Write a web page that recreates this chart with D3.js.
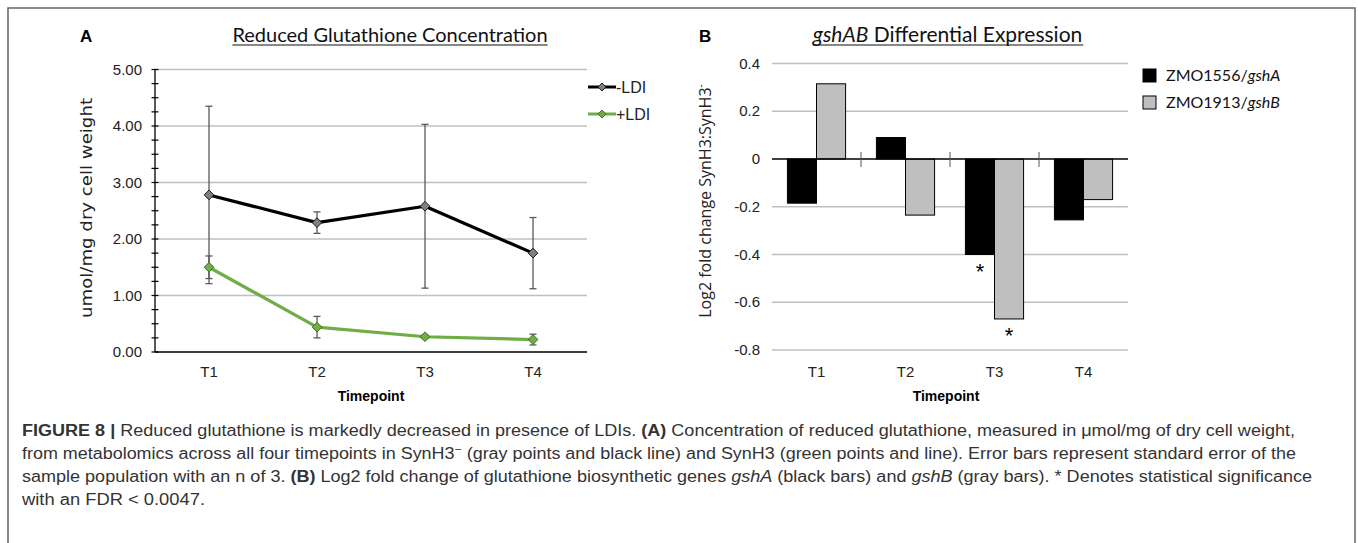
<!DOCTYPE html>
<html>
<head>
<meta charset="utf-8">
<script src="https://cdn.jsdelivr.net/npm/d3@7"></script>
<style>
    body { margin: 0; background: #fff; }
    svg { display: block; }
    .narrow { font-family: "Liberation Sans Narrow", "Arial Narrow", "Liberation Sans", Arial, sans-serif; }
    .cal { font-family: Lato, "Open Sans", sans-serif; }
</style>
</head>
<body>
<svg id="fig" width="1358" height="543"></svg>
<script>
// ---------------- data ----------------
const timepoints = ["T1", "T2", "T3", "T4"];

// panel A: reduced glutathione (umol/mg dry cell weight)
const minusLDI = [2.78, 2.29, 2.58, 1.75];
const minusLDIErr = [1.57, 0.19, 1.45, 0.63];
const plusLDI = [1.50, 0.44, 0.27, 0.22];
const plusLDIErr = [0.20, 0.19, 0.03, 0.095];
const yTicksA = [0, 1, 2, 3, 4, 5];

// panel B: log2 fold change
const geneNames = ["ZMO1556/", "ZMO1913/"];
const geneItalic = ["gshA", "gshB"];
const gshA = [-0.185, 0.09, -0.40, -0.255];
const gshB = [0.315, -0.235, -0.67, -0.17];
const sigA = [false, false, true, false];
const sigB = [false, false, true, false];
const yTicksB = [0.4, 0.2, 0, -0.2, -0.4, -0.6, -0.8];

const svg = d3.select("#fig");

// outer frame (cut off at the bottom)
svg.append("path")
    .attr("d", "M8,543 V8 H1355 V543")
    .attr("fill", "none")
    .attr("stroke", "#666")
    .attr("stroke-width", 1.5);

// helper: underlined title
function underlinedTitle(g, cx, y) {
    const bb = g.node().getBBox();
    g.attr("transform", `translate(${cx - bb.width / 2}, ${y})`);
    const w = g.node().getBBox().width;
    g.append("line")
        .attr("x1", 0).attr("x2", w)
        .attr("y1", 3).attr("y2", 3)
        .attr("stroke", "#111").attr("stroke-width", 1.2);
}

//--------------------------
// panel A
const gA = svg.append("g");

const xA = d3.scaleBand().domain(timepoints).range([155, 587]);
const yA = d3.scaleLinear().domain([0, 5]).range([352, 69.5]);

gA.append("text").attr("x", 80).attr("y", 42)
    .attr("font-family", "Liberation Sans, Arial, sans-serif")
    .attr("font-weight", "bold").attr("font-size", 17).text("A");

const titleA = gA.append("g").attr("class", "cal");
titleA.append("text").attr("font-size", 20).attr("fill", "#111")
    .text("Reduced Glutathione Concentration");
underlinedTitle(titleA, 390, 42);

// gridlines
gA.selectAll(".grid").data(yTicksA.filter(d => d > 0)).join("line")
    .attr("x1", 155).attr("x2", 587)
    .attr("y1", d => yA(d)).attr("y2", d => yA(d))
    .attr("stroke", "#bfbfbf").attr("stroke-width", 1.3);

// axes
gA.append("line").attr("x1", 155).attr("x2", 587)
    .attr("y1", yA(0)).attr("y2", yA(0)).attr("stroke", "#000").attr("stroke-width", 1.3);
gA.append("line").attr("x1", 155).attr("x2", 155)
    .attr("y1", yA(0)).attr("y2", yA(5)).attr("stroke", "#000").attr("stroke-width", 1.3);

// crossing tick marks every 0.25
gA.selectAll(".tk").data(d3.range(0, 5.001, 0.25)).join("line")
    .attr("x1", 151.5).attr("x2", 158.5)
    .attr("y1", d => yA(d)).attr("y2", d => yA(d))
    .attr("stroke", "#000").attr("stroke-width", 1.2);

gA.selectAll(".yl").data(yTicksA).join("text")
    .attr("class", "narrow")
    .attr("x", 142).attr("y", d => yA(d) + 5)
    .attr("text-anchor", "end").attr("font-size", 15).attr("fill", "#222")
    .text(d => d.toFixed(2));

gA.selectAll(".xl").data(timepoints).join("text")
    .attr("class", "narrow")
    .attr("x", d => xA(d) + xA.bandwidth() / 2).attr("y", 377)
    .attr("text-anchor", "middle").attr("font-size", 15).attr("fill", "#222")
    .text(d => d);

gA.append("text").attr("class", "narrow")
    .attr("x", 371).attr("y", 401)
    .attr("text-anchor", "middle").attr("font-size", 14).attr("font-weight", "bold")
    .text("Timepoint");

gA.append("text")
    .attr("transform", "translate(92, 208) rotate(-90)")
    .attr("text-anchor", "middle")
    .attr("font-family", "DejaVu Sans, Verdana, sans-serif")
    .attr("font-size", 15).attr("fill", "#222")
    .attr("textLength", 220).attr("lengthAdjust", "spacingAndGlyphs")
    .text("umol/mg dry cell weight");

const seriesA = [
    { name: "-LDI", vals: minusLDI, err: minusLDIErr, line: "#000", fill: "#7f7f7f", edge: "#1a1a1a" },
    { name: "+LDI", vals: plusLDI, err: plusLDIErr, line: "#70ad47", fill: "#70ad47", edge: "#3f6f24" }
];

const cx = i => xA(timepoints[i]) + xA.bandwidth() / 2;
const lineA = d3.line().x((d, i) => cx(i)).y(d => yA(d));
const diamond = d3.symbol().type(d3.symbolDiamond2).size(60);

seriesA.forEach(s => {
    gA.append("path").datum(s.vals)
        .attr("d", lineA).attr("fill", "none")
        .attr("stroke", s.line).attr("stroke-width", 3.2)
        .attr("stroke-linejoin", "round");
});

// error bars
seriesA.forEach(s => {
    s.vals.forEach((v, i) => {
        const top = yA(v + s.err[i]), bot = yA(v - s.err[i]);
        const e = gA.append("g").attr("stroke", "#595959").attr("stroke-width", 1.3);
        e.append("line").attr("x1", cx(i)).attr("x2", cx(i)).attr("y1", top).attr("y2", bot);
        e.append("line").attr("x1", cx(i) - 3.5).attr("x2", cx(i) + 3.5).attr("y1", top).attr("y2", top);
        e.append("line").attr("x1", cx(i) - 3.5).attr("x2", cx(i) + 3.5).attr("y1", bot).attr("y2", bot);
    });
});

// markers
seriesA.forEach(s => {
    gA.selectAll(null).data(s.vals).join("path")
        .attr("d", diamond)
        .attr("transform", (d, i) => `translate(${cx(i)}, ${yA(d)})`)
        .attr("fill", s.fill).attr("stroke", s.edge).attr("stroke-width", 1);
});

// legend A
seriesA.forEach((s, i) => {
    const ly = 87 + i * 27;
    gA.append("line").attr("x1", 588).attr("x2", 616).attr("y1", ly).attr("y2", ly)
        .attr("stroke", s.line).attr("stroke-width", 3);
    gA.append("path").attr("d", d3.symbol().type(d3.symbolDiamond2).size(40))
        .attr("transform", `translate(602, ${ly})`)
        .attr("fill", s.fill).attr("stroke", s.edge).attr("stroke-width", 1);
    gA.append("text").attr("class", "narrow")
        .attr("x", 616).attr("y", ly + 6).attr("font-size", 16).attr("fill", "#222")
        .text(s.name);
});

//--------------------------
// panel B
const gB = svg.append("g");

const xB = d3.scaleBand().domain(timepoints).range([772, 1128]);
const xB1 = d3.scaleBand().domain([0, 1]).range([0, xB.bandwidth()])
    .paddingInner(0).paddingOuter(0.53);
const yB = d3.scaleLinear().domain([-0.8, 0.4]).range([350, 63.5]);

gB.append("text").attr("x", 699).attr("y", 42)
    .attr("font-family", "Liberation Sans, Arial, sans-serif")
    .attr("font-weight", "bold").attr("font-size", 17).text("B");

const titleB = gB.append("g").attr("class", "cal");
const tB = titleB.append("text").attr("font-size", 21).attr("fill", "#111");
tB.append("tspan").attr("font-style", "italic").text("gshAB");
tB.append("tspan").text(" Differential Expression");
underlinedTitle(titleB, 948, 42);

gB.selectAll(".grid").data(yTicksB.filter(d => d !== 0)).join("line")
    .attr("x1", 772).attr("x2", 1128)
    .attr("y1", d => yB(d)).attr("y2", d => yB(d))
    .attr("stroke", "#bfbfbf").attr("stroke-width", 1.3);

gB.selectAll(".yl").data(yTicksB).join("text")
    .attr("class", "narrow")
    .attr("x", 760).attr("y", d => yB(d) + 5)
    .attr("text-anchor", "end").attr("font-size", 15).attr("fill", "#222")
    .text(d => d === 0 ? "0" : d.toFixed(1));

// bars
const barData = [];
timepoints.forEach((t, i) => {
    barData.push({ t, k: 0, v: gshA[i], sig: sigA[i] });
    barData.push({ t, k: 1, v: gshB[i], sig: sigB[i] });
});

gB.selectAll(".bar").data(barData).join("rect")
    .attr("x", d => xB(d.t) + xB1(d.k))
    .attr("width", xB1.bandwidth())
    .attr("y", d => yB(Math.max(0, d.v)))
    .attr("height", d => Math.abs(yB(d.v) - yB(0)))
    .attr("fill", d => d.k === 0 ? "#000" : "#bfbfbf")
    .attr("stroke", "#000").attr("stroke-width", 1);

// significance stars
gB.selectAll(".star").data(barData.filter(d => d.sig)).join("text")
    .attr("x", d => xB(d.t) + xB1(d.k) + xB1.bandwidth() / 2)
    .attr("y", d => yB(d.v) + 24)
    .attr("text-anchor", "middle")
    .attr("font-family", "Liberation Sans, Arial, sans-serif")
    .attr("font-size", 22).text("*");

// zero axis with category separators
gB.append("line").attr("x1", 772).attr("x2", 1128)
    .attr("y1", yB(0)).attr("y2", yB(0)).attr("stroke", "#000").attr("stroke-width", 1.3);
gB.selectAll(".sep").data(timepoints.slice(1)).join("line")
    .attr("x1", d => xB(d)).attr("x2", d => xB(d))
    .attr("y1", yB(0) - 7).attr("y2", yB(0) + 8)
    .attr("stroke", "#555").attr("stroke-width", 1);

gB.selectAll(".xl").data(timepoints).join("text")
    .attr("class", "narrow")
    .attr("x", d => xB(d) + xB.bandwidth() / 2).attr("y", 377)
    .attr("text-anchor", "middle").attr("font-size", 15).attr("fill", "#222")
    .text(d => d);

gB.append("text").attr("class", "narrow")
    .attr("x", 946).attr("y", 401)
    .attr("text-anchor", "middle").attr("font-size", 14).attr("font-weight", "bold")
    .text("Timepoint");

const yLabB = gB.append("text")
    .attr("transform", "translate(711, 201) rotate(-90)")
    .attr("text-anchor", "middle")
    .attr("font-family", "Open Sans, sans-serif")
    .attr("font-size", 16).attr("fill", "#222");
yLabB.append("tspan").text("Log2 fold change SynH3:SynH3");
yLabB.append("tspan").attr("dy", -7).attr("font-size", 10).text("-");

// legend B
geneNames.forEach((n, i) => {
    const ly = 69 + i * 27;
    gB.append("rect").attr("x", 1143).attr("y", ly).attr("width", 13).attr("height", 13)
        .attr("fill", i === 0 ? "#000" : "#bfbfbf").attr("stroke", "#000").attr("stroke-width", 1);
    const t = gB.append("text").attr("class", "cal")
        .attr("x", 1166).attr("y", ly + 12).attr("font-size", 16).attr("fill", "#111");
    t.append("tspan").text(n);
    t.append("tspan").attr("font-style", "italic").text(geneItalic[i]);
});

//--------------------------
// caption
const capLines = [
    { w: 1273, parts: [["FIGURE 8 |", "b"], [" Reduced glutathione is markedly decreased in presence of LDIs. "], ["(A)", "b"], [" Concentration of reduced glutathione, measured in \u03bcmol/mg of dry cell weight,"]] },
    { w: 1274, parts: [["from metabolomics across all four timepoints in SynH3"], ["\u2212", "sup"], [" (gray points and black line) and SynH3 (green points and line). Error bars represent standard error of the"]] },
    { w: 1290, parts: [["sample population with an n of 3. "], ["(B)", "b"], [" Log2 fold change of glutathione biosynthetic genes "], ["gshA", "i"], [" (black bars) and "], ["gshB", "i"], [" (gray bars). * Denotes statistical significance"]] },
    { w: 183, parts: [["with an FDR < 0.0047."]] }
];

capLines.forEach((ln, i) => {
    const t = svg.append("text").attr("class", "narrow")
        .attr("x", 22).attr("y", 436 + i * 23)
        .attr("font-size", 16).attr("fill", "#333")
        .attr("textLength", ln.w).attr("lengthAdjust", "spacingAndGlyphs");
    ln.parts.forEach(p => {
        const s = t.append("tspan").text(p[0]);
        if (p[1] === "b") s.attr("font-weight", "bold");
        if (p[1] === "i") s.attr("font-style", "italic");
        if (p[1] === "sup") s.attr("font-size", 11).attr("dy", -6).attr("data-sup", "1");
    });
    // put baseline back after a superscript
    t.selectAll("tspan").each(function (d, j, nodes) {
        if (j > 0 && nodes[j - 1].getAttribute("data-sup")) d3.select(this).attr("dy", 6);
    });
});
</script>
</body>
</html>
